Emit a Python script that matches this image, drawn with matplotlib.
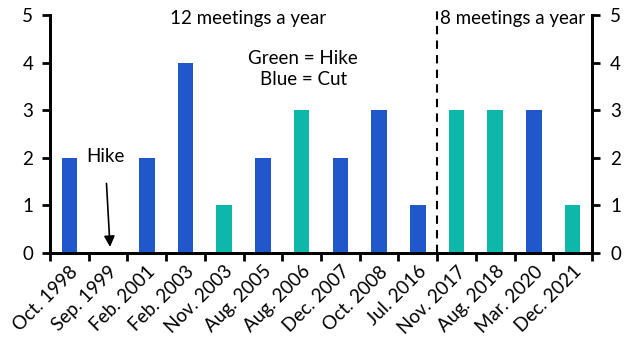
import numpy as np
import matplotlib
matplotlib.use("Agg")
from matplotlib import pyplot as plt

plt.rcParams['font.family'] = ['Lato', 'DejaVu Sans']

# meetings where rates moved, how many in a row, and direction
dates = ["Oct. 1998", "Sep. 1999", "Feb. 2001", "Feb. 2003", "Nov. 2003",
         "Aug. 2005", "Aug. 2006", "Dec. 2007", "Oct. 2008", "Jul. 2016",
         "Nov. 2017", "Aug. 2018", "Mar. 2020", "Dec. 2021"]
counts = [2, 0, 2, 4, 1, 2, 3, 2, 3, 1, 3, 3, 3, 1]
moves = ["cut", "hike", "cut", "cut", "hike", "cut", "hike", "cut", "cut", "cut",
         "hike", "hike", "cut", "hike"]
y_ticks = [0, 1, 2, 3, 4, 5]

blue = "#2058cc"
green = "#0db8aa"
fs = 13.5

fig = plt.figure(figsize=(6.3, 3.55), dpi=100)
ax = fig.add_axes([0.0794, 0.287, 0.8603, 0.671])

x = np.arange(len(dates))
colors = [green if m == "hike" else blue for m in moves]
ax.bar(x, counts, width=0.4, color=colors, zorder=2)

ax.set_xlim(-0.5, len(dates) - 0.5)
ax.set_ylim(0, 5)
ax.set_yticks(y_ticks)

# labels under bars, tick marks at category edges
ax.set_xticks(x)
ax.set_xticklabels(dates, rotation=45, ha="right", rotation_mode="anchor", fontsize=fs)
ax.tick_params(axis="x", which="major", length=0, pad=7)
ax.set_xticks(np.arange(-0.5, len(dates), 1), minor=True)
ax.tick_params(axis="x", which="minor", length=6, width=2)

ax.tick_params(axis="y", length=6, width=2, labelsize=fs, pad=6)
for side in ["left", "bottom", "right"]:
    ax.spines[side].set_linewidth(2)
ax.spines["top"].set_visible(False)

ax2 = ax.twinx()
ax2.set_ylim(0, 5)
ax2.set_yticks(y_ticks)
ax2.tick_params(axis="y", length=6, width=2, labelsize=fs, pad=7)
for side in ["left", "bottom", "right"]:
    ax2.spines[side].set_linewidth(2)
ax2.spines["top"].set_visible(False)

# change in meeting frequency
ax.plot([9.5, 9.5], [0, 5.15], color="black", linestyle=(0, (4, 3)), linewidth=1.5,
        clip_on=False, zorder=3)

ax.text(4.62, 4.93, "12 meetings a year", ha="center", va="center", fontsize=fs)
ax.text(11.45, 4.93, "8 meetings a year", ha="center", va="center", fontsize=fs)
ax.text(6.04, 3.86, "Green = Hike\nBlue = Cut", ha="center", va="center",
        fontsize=fs, linespacing=1.25)

ax.annotate("Hike", xy=(1.05, 0.13), xytext=(0.92, 2.02), ha="center", va="center",
            fontsize=fs,
            arrowprops=dict(arrowstyle="-|>", color="black", lw=1.2,
                            mutation_scale=16, shrinkA=11, shrinkB=0))

fig.savefig("out.png", dpi=100)
